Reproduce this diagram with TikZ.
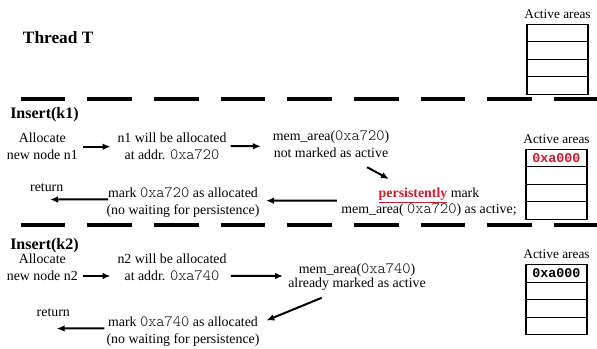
\documentclass[tikz,border=0pt]{standalone}
\usepackage{fontspec}
\setmainfont{Liberation Serif}
\setmonofont{lmmonolt10-regular.otf}[Scale=1.13]
\newfontfamily\cellfont{Liberation Mono}
\usepackage{tikz}
\usetikzlibrary{arrows.meta,calc}
\definecolor{persred}{RGB}{200,30,45}

\begin{document}
\begin{tikzpicture}[
      x=0.75pt,y=-0.75pt,
      font=\fontsize{10.4}{12.4}\selectfont,
      txt/.style  ={align=center,inner sep=0pt},
      title/.style={anchor=base west,inner sep=0pt,font=\fontsize{12}{14}\selectfont\bfseries},
      arr/.style  ={-{Latex[length=6pt,width=5pt]},line width=1.5pt},
      sep/.style  ={line width=2.3pt,dash pattern=on 33.4pt off 16.6pt},
      cell/.style ={draw,line width=0.8pt,minimum width=45.75pt,minimum height=13.1pt,inner sep=0pt}]
      \useasboundingbox (0,0) rectangle (597,349);

      % Macro: stack of four active-area cells with label on top
      \newcommand{\areabox}[4]{% name, x, top y, first entry
        \foreach \r in {1,...,4}{\node[cell] (#1\r) at (#2,#3+17.5*\r-8.75) {};}
        \node[anchor=base,inner sep=0pt,font=\fontsize{10}{12}\selectfont] (#1lbl) at ($(#11.north)+(0,-5.5)$) {Active areas};
        \node[inner sep=0pt,font=\fontsize{10}{12}\cellfont\bfseries] (#1txt) at (#11) {#4};
      }

      % Thread
      \node[title,font=\fontsize{13}{15}\selectfont\bfseries] (thread) at (22.7,43.3) {Thread T};
      \areabox{T}{557.5}{24.3}{}
      \draw[sep] (20.7,99) -- (597.5,99);

      % Insert(k1)
      \node[title] (ins1) at (10,118.3) {Insert(k1)};
      \node[txt] (alloc1) at (42.3,146.1) {Allocate\\new node n1};
      \node[txt] (will1)  at (172,146.1) {n1 will be allocated\\at addr. \texttt{0xa720}};
      \node[txt] (mem1)   at (331,144.3) {mem\_area(\texttt{0xa720})\\not marked as active};
      \node[txt] (pers1)  at (429,202.2) {\textcolor{persred}{\underline{\textbf{persistently}}} mark\\mem\_area( \texttt{0xa720}) as active;};
      \node[txt] (mark1)  at (183,202.5) {mark \texttt{0xa720} as allocated\\(no waiting for persistence)};
      \node[txt] (ret1)   at (46.7,187.7) {return};
      \areabox{B}{556.5}{149.3}{\textcolor{persred}{0xa000}}

      \draw[arr] ($(alloc1.east)+(4.7,0.6)$) -- ($(will1.west)+(-6.7,0.6)$);
      \draw[arr] ($(will1.east)+(4,0)$) -- ($(mem1.west)+(-11.7,2)$);
      \draw[arr] ($(mem1.south east)+(-22.3,9.4)$) -- ($(pers1.north)+(-40,-8.3)$);
      \draw[arr] ($(pers1.west)+(-4.3,-1.5)$) -- ($(mark1.east)+(6.3,-1.8)$);
      \draw[arr] ($(mark1.west)+(1.7,-3.2)$) -- ($(ret1.south)+(3.3,7.6)$);

      \draw[sep] (20.7,225) -- (597.5,225);

      % Insert(k2)
      \node[title] (ins2) at (10,250) {Insert(k2)};
      \node[txt] (alloc2) at (42.3,267.3) {Allocate\\new node n2};
      \node[txt] (will2)  at (172,267.3) {n2 will be allocated\\at addr. \texttt{0xa740}};
      \node[txt,font=\fontsize{10.4}{10.8}\selectfont] (mem2) at (357,277.3) {mem\_area(\texttt{0xa740})\\already marked as active};
      \node[txt] (mark2)  at (183,331.7) {mark \texttt{0xa740} as allocated\\(no waiting for persistence)};
      \node[txt] (ret2)   at (53.3,312.7) {return};
      \areabox{C}{556.5}{264.7}{0xa000}

      \draw[arr] ($(alloc2.east)+(4.7,8.7)$) -- ($(will2.west)+(-6.7,8.7)$);
      \draw[arr] ($(will2.east)+(4,8.7)$) -- ($(mem2.west)+(-5,-1.3)$);
      \draw[arr] ($(mem2.south)+(-35.3,6.6)$) -- ($(mark2.north east)+(6.6,3.8)$);
      \draw[arr] ($(mark2.west)+(-2,-3.4)$) -- ($(ret2.south)+(3.4,11.6)$);
  \end{tikzpicture}
\end{document}
